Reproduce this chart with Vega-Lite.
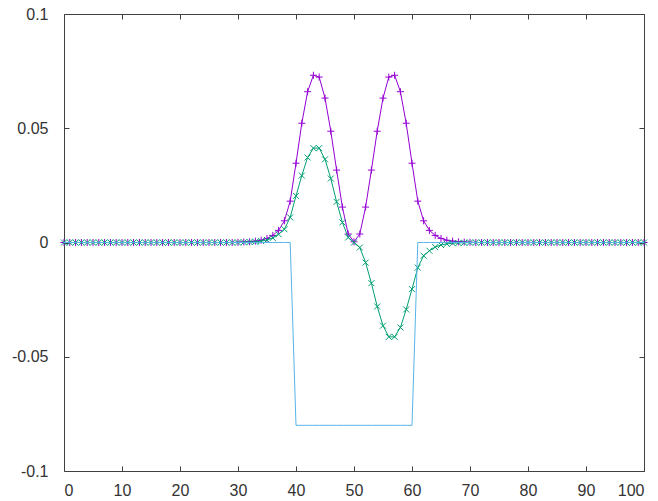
{
  "$schema": "https://vega.github.io/schema/vega-lite/v6.json",
  "width": 580,
  "height": 457,
  "autosize": "none",
  "padding": {"left": 64, "top": 14, "right": 14, "bottom": 30},
  "background": "white",
  "config": {
    "view": {"stroke": null},
    "axis": {
      "grid": false,
      "title": null,
      "labelFont": "Liberation Sans",
      "labelFontSize": 16,
      "labelColor": "#333333",
      "domainColor": "#404040",
      "tickColor": "#404040",
      "domainWidth": 1,
      "tickWidth": 1
    }
  },
  "resolve": {"axis": {"x": "independent", "y": "independent"}},
  "data": {
    "values": [
      {"x": 0, "p": 0, "g": 0, "b": 0},
      {"x": 1, "p": 0, "g": 0, "b": 0},
      {"x": 2, "p": 0, "g": 0, "b": 0},
      {"x": 3, "p": 0, "g": 0, "b": 0},
      {"x": 4, "p": 0, "g": 0, "b": 0},
      {"x": 5, "p": 0, "g": 0, "b": 0},
      {"x": 6, "p": 0, "g": 0, "b": 0},
      {"x": 7, "p": 0, "g": 0, "b": 0},
      {"x": 8, "p": 0, "g": 0, "b": 0},
      {"x": 9, "p": 0, "g": 0, "b": 0},
      {"x": 10, "p": 0, "g": 0, "b": 0},
      {"x": 11, "p": 0, "g": 0, "b": 0},
      {"x": 12, "p": 0, "g": 0, "b": 0},
      {"x": 13, "p": 0, "g": 0, "b": 0},
      {"x": 14, "p": 0, "g": 0, "b": 0},
      {"x": 15, "p": 0, "g": 0, "b": 0},
      {"x": 16, "p": 0, "g": 0, "b": 0},
      {"x": 17, "p": 0, "g": 0, "b": 0},
      {"x": 18, "p": 0, "g": 0, "b": 0},
      {"x": 19, "p": 0, "g": 0, "b": 0},
      {"x": 20, "p": 0, "g": 0, "b": 0},
      {"x": 21, "p": 0, "g": 0, "b": 0},
      {"x": 22, "p": 0, "g": 0, "b": 0},
      {"x": 23, "p": 0, "g": 0, "b": 0},
      {"x": 24, "p": 0, "g": 0, "b": 0},
      {"x": 25, "p": 0, "g": 0, "b": 0},
      {"x": 26, "p": 0, "g": 0, "b": 0},
      {"x": 27, "p": 0, "g": 0, "b": 0},
      {"x": 28, "p": 0, "g": 0, "b": 0},
      {"x": 29, "p": 0, "g": 0, "b": 0},
      {"x": 30, "p": 0.0001, "g": 0, "b": 0},
      {"x": 31, "p": 0.0002, "g": 0.0001, "b": 0},
      {"x": 32, "p": 0.0003, "g": 0.0002, "b": 0},
      {"x": 33, "p": 0.0006, "g": 0.0003, "b": 0},
      {"x": 34, "p": 0.001, "g": 0.0006, "b": 0},
      {"x": 35, "p": 0.0018, "g": 0.0011, "b": 0},
      {"x": 36, "p": 0.0031, "g": 0.002, "b": 0},
      {"x": 37, "p": 0.0053, "g": 0.0036, "b": 0},
      {"x": 38, "p": 0.0095, "g": 0.0058, "b": 0},
      {"x": 39, "p": 0.0181, "g": 0.011, "b": 0},
      {"x": 40, "p": 0.0347, "g": 0.0204, "b": -0.08},
      {"x": 41, "p": 0.0522, "g": 0.0293, "b": -0.08},
      {"x": 42, "p": 0.066, "g": 0.0372, "b": -0.08},
      {"x": 43, "p": 0.0732, "g": 0.0413, "b": -0.08},
      {"x": 44, "p": 0.0724, "g": 0.0413, "b": -0.08},
      {"x": 45, "p": 0.0632, "g": 0.0364, "b": -0.08},
      {"x": 46, "p": 0.0487, "g": 0.028, "b": -0.08},
      {"x": 47, "p": 0.0317, "g": 0.0178, "b": -0.08},
      {"x": 48, "p": 0.0155, "g": 0.0088, "b": -0.08},
      {"x": 49, "p": 0.0037, "g": 0.0022, "b": -0.08},
      {"x": 50, "p": 0.0003, "g": 0, "b": -0.08},
      {"x": 51, "p": 0.0037, "g": -0.0022, "b": -0.08},
      {"x": 52, "p": 0.0155, "g": -0.0088, "b": -0.08},
      {"x": 53, "p": 0.0317, "g": -0.0178, "b": -0.08},
      {"x": 54, "p": 0.0487, "g": -0.028, "b": -0.08},
      {"x": 55, "p": 0.0632, "g": -0.0364, "b": -0.08},
      {"x": 56, "p": 0.0724, "g": -0.0413, "b": -0.08},
      {"x": 57, "p": 0.0732, "g": -0.0413, "b": -0.08},
      {"x": 58, "p": 0.066, "g": -0.0372, "b": -0.08},
      {"x": 59, "p": 0.0522, "g": -0.0293, "b": -0.08},
      {"x": 60, "p": 0.0347, "g": -0.0204, "b": -0.08},
      {"x": 61, "p": 0.0181, "g": -0.011, "b": 0},
      {"x": 62, "p": 0.0095, "g": -0.0058, "b": 0},
      {"x": 63, "p": 0.0053, "g": -0.0036, "b": 0},
      {"x": 64, "p": 0.0031, "g": -0.002, "b": 0},
      {"x": 65, "p": 0.0018, "g": -0.0011, "b": 0},
      {"x": 66, "p": 0.001, "g": -0.0006, "b": 0},
      {"x": 67, "p": 0.0006, "g": -0.0003, "b": 0},
      {"x": 68, "p": 0.0003, "g": -0.0002, "b": 0},
      {"x": 69, "p": 0.0002, "g": -0.0001, "b": 0},
      {"x": 70, "p": 0.0001, "g": 0, "b": 0},
      {"x": 71, "p": 0, "g": 0, "b": 0},
      {"x": 72, "p": 0, "g": 0, "b": 0},
      {"x": 73, "p": 0, "g": 0, "b": 0},
      {"x": 74, "p": 0, "g": 0, "b": 0},
      {"x": 75, "p": 0, "g": 0, "b": 0},
      {"x": 76, "p": 0, "g": 0, "b": 0},
      {"x": 77, "p": 0, "g": 0, "b": 0},
      {"x": 78, "p": 0, "g": 0, "b": 0},
      {"x": 79, "p": 0, "g": 0, "b": 0},
      {"x": 80, "p": 0, "g": 0, "b": 0},
      {"x": 81, "p": 0, "g": 0, "b": 0},
      {"x": 82, "p": 0, "g": 0, "b": 0},
      {"x": 83, "p": 0, "g": 0, "b": 0},
      {"x": 84, "p": 0, "g": 0, "b": 0},
      {"x": 85, "p": 0, "g": 0, "b": 0},
      {"x": 86, "p": 0, "g": 0, "b": 0},
      {"x": 87, "p": 0, "g": 0, "b": 0},
      {"x": 88, "p": 0, "g": 0, "b": 0},
      {"x": 89, "p": 0, "g": 0, "b": 0},
      {"x": 90, "p": 0, "g": 0, "b": 0},
      {"x": 91, "p": 0, "g": 0, "b": 0},
      {"x": 92, "p": 0, "g": 0, "b": 0},
      {"x": 93, "p": 0, "g": 0, "b": 0},
      {"x": 94, "p": 0, "g": 0, "b": 0},
      {"x": 95, "p": 0, "g": 0, "b": 0},
      {"x": 96, "p": 0, "g": 0, "b": 0},
      {"x": 97, "p": 0, "g": 0, "b": 0},
      {"x": 98, "p": 0, "g": 0, "b": 0},
      {"x": 99, "p": 0, "g": 0, "b": 0},
      {"x": 100, "p": 0, "g": 0, "b": 0}
    ]
  },
  "layer": [
    {
      "mark": {"type": "line", "color": "#9400d3", "strokeWidth": 1},
      "encoding": {
        "x": {"field": "x", "type": "quantitative", "scale": {"domain": [0, 100], "nice": false},
              "axis": {"orient": "bottom", "values": [0, 10, 20, 30, 40, 50, 60, 70, 80, 90, 100], "tickSize": -5, "labelPadding": 16}},
        "y": {"field": "p", "type": "quantitative", "scale": {"domain": [-0.1, 0.1], "nice": false, "zero": false},
              "axis": {"orient": "left", "values": [-0.1, -0.05, 0, 0.05, 0.1], "tickSize": -5, "labelPadding": 21, "labelExpr": "'' + datum.value"}}
      }
    },
    {
      "mark": {"type": "point", "shape": "M-1,0L1,0M0,-1L0,1", "filled": false, "size": 49, "strokeWidth": 1, "color": "#9400d3", "opacity": 1},
      "encoding": {
        "x": {"field": "x", "type": "quantitative", "axis": null},
        "y": {"field": "p", "type": "quantitative", "axis": null}
      }
    },
    {
      "mark": {"type": "line", "color": "#009e73", "strokeWidth": 1},
      "encoding": {
        "x": {"field": "x", "type": "quantitative", "axis": null},
        "y": {"field": "g", "type": "quantitative", "axis": null}
      }
    },
    {
      "mark": {"type": "point", "shape": "M-1,-1L1,1M1,-1L-1,1", "filled": false, "size": 36, "strokeWidth": 1, "color": "#009e73", "opacity": 1},
      "encoding": {
        "x": {"field": "x", "type": "quantitative", "axis": null},
        "y": {"field": "g", "type": "quantitative", "axis": null}
      }
    },
    {
      "mark": {"type": "line", "color": "#56b4e9", "strokeWidth": 1},
      "encoding": {
        "x": {"field": "x", "type": "quantitative",
              "axis": {"orient": "top", "values": [0, 10, 20, 30, 40, 50, 60, 70, 80, 90, 100], "tickSize": -5, "labels": false}},
        "y": {"field": "b", "type": "quantitative",
              "axis": {"orient": "right", "values": [-0.1, -0.05, 0, 0.05, 0.1], "tickSize": -5, "labels": false}}
      }
    }
  ]
}
